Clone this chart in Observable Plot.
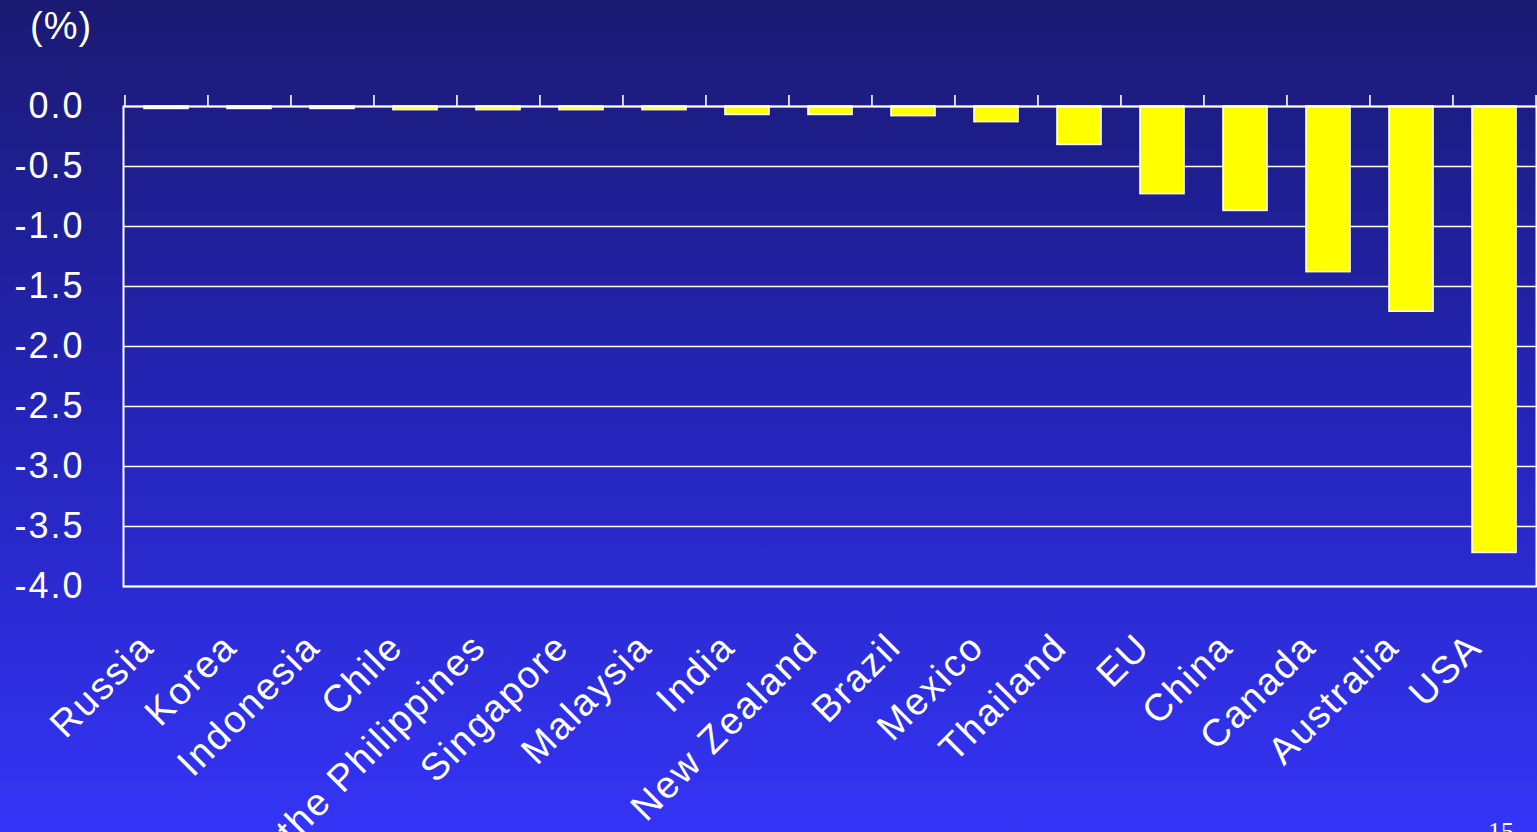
<!DOCTYPE html>
<html>
<head>
<meta charset="utf-8">
<script src="https://cdn.jsdelivr.net/npm/d3@7"></script>
<script src="https://cdn.jsdelivr.net/npm/@observablehq/plot@0.6"></script>
<style>
  html, body { margin: 0; padding: 0; }
  body {
    width: 1537px; height: 832px; overflow: hidden; position: relative;
    background: linear-gradient(to bottom, #1a1a72 0%, #2424b8 50%, #3434f6 100%);
    font-family: "Liberation Sans", Arial, sans-serif; color: #fff;
  }
  #chart { position: absolute; left: 0; top: 0; }
  #chart g[aria-label="y-axis tick label"] { letter-spacing: 2px; }
  #chart g[aria-label="x-axis tick label"] { letter-spacing: 2px; }
  #unit { position: absolute; left: 30px; top: 5px; font-size: 38px; letter-spacing: 1px; }
  #page { position: absolute; left: 1488px; top: 817px; font-size: 26px; font-family: "Liberation Serif", serif; }
</style>
</head>
<body>
<div id="chart"></div>
<div id="unit">(%)</div>
<div id="page">15</div>
<script>
// Countries, ordered from smallest to largest decline
const countries = ["Russia", "Korea", "Indonesia", "Chile", "the Philippines", "Singapore",
  "Malaysia", "India", "New Zealand", "Brazil", "Mexico", "Thailand", "EU", "China",
  "Canada", "Australia", "USA"];
// Change, in percent
const changes = [-0.02, -0.02, -0.02, -0.03, -0.03, -0.03, -0.03, -0.07, -0.07, -0.08,
  -0.13, -0.32, -0.73, -0.87, -1.38, -1.71, -3.72];
// Value axis ticks
const yTicks = [-4.0, -3.5, -3.0, -2.5, -2.0, -1.5, -1.0, -0.5, 0.0];

const data = countries.map((c, i) => ({country: c, value: changes[i]}));

const W = 1537, H = 832, ML = 123, MR = 1, MT = 106, MB = 246;
const step = (W - ML - MR) / countries.length;

const chart = Plot.plot({
  width: W,
  height: H,
  marginLeft: ML,
  marginRight: MR,
  marginTop: MT,
  marginBottom: MB,
  style: {background: "transparent", color: "#fff", fontFamily: "'Liberation Sans', Arial, sans-serif", overflow: "visible"},
  x: {domain: countries, paddingInner: 0.47, paddingOuter: 0.235},
  y: {domain: [-4, 0]},
  marks: [
    Plot.ruleY(yTicks, {stroke: "#fff", strokeWidth: 1.6}),
    Plot.barY(data, {x: "country", y: "value", fill: "#ffff00", stroke: "#fff", strokeWidth: 1.6}),
    Plot.frame({stroke: "#fff", strokeWidth: 2}),
    // category separators above the zero line
    Plot.ruleX(countries, {x: d => d, y1: 0, y2: 0, insetTop: -11, dx: -step / 2, stroke: "#fff", strokeWidth: 1.6}),
    Plot.ruleX(countries.slice(-1), {x: d => d, y1: 0, y2: 0, insetTop: -11, dx: step / 2, stroke: "#fff", strokeWidth: 1.6}),
    Plot.axisY({ticks: yTicks, tickFormat: d => d.toFixed(1), tickSize: 0, tickPadding: 39, fontSize: 36, label: null}),
    Plot.axisX({anchor: "bottom", tickSize: 0, tickRotate: -45, tickPadding: 54, dx: -19, fontSize: 38, label: null})
  ]
});
document.getElementById("chart").appendChild(chart);
</script>
</body>
</html>
